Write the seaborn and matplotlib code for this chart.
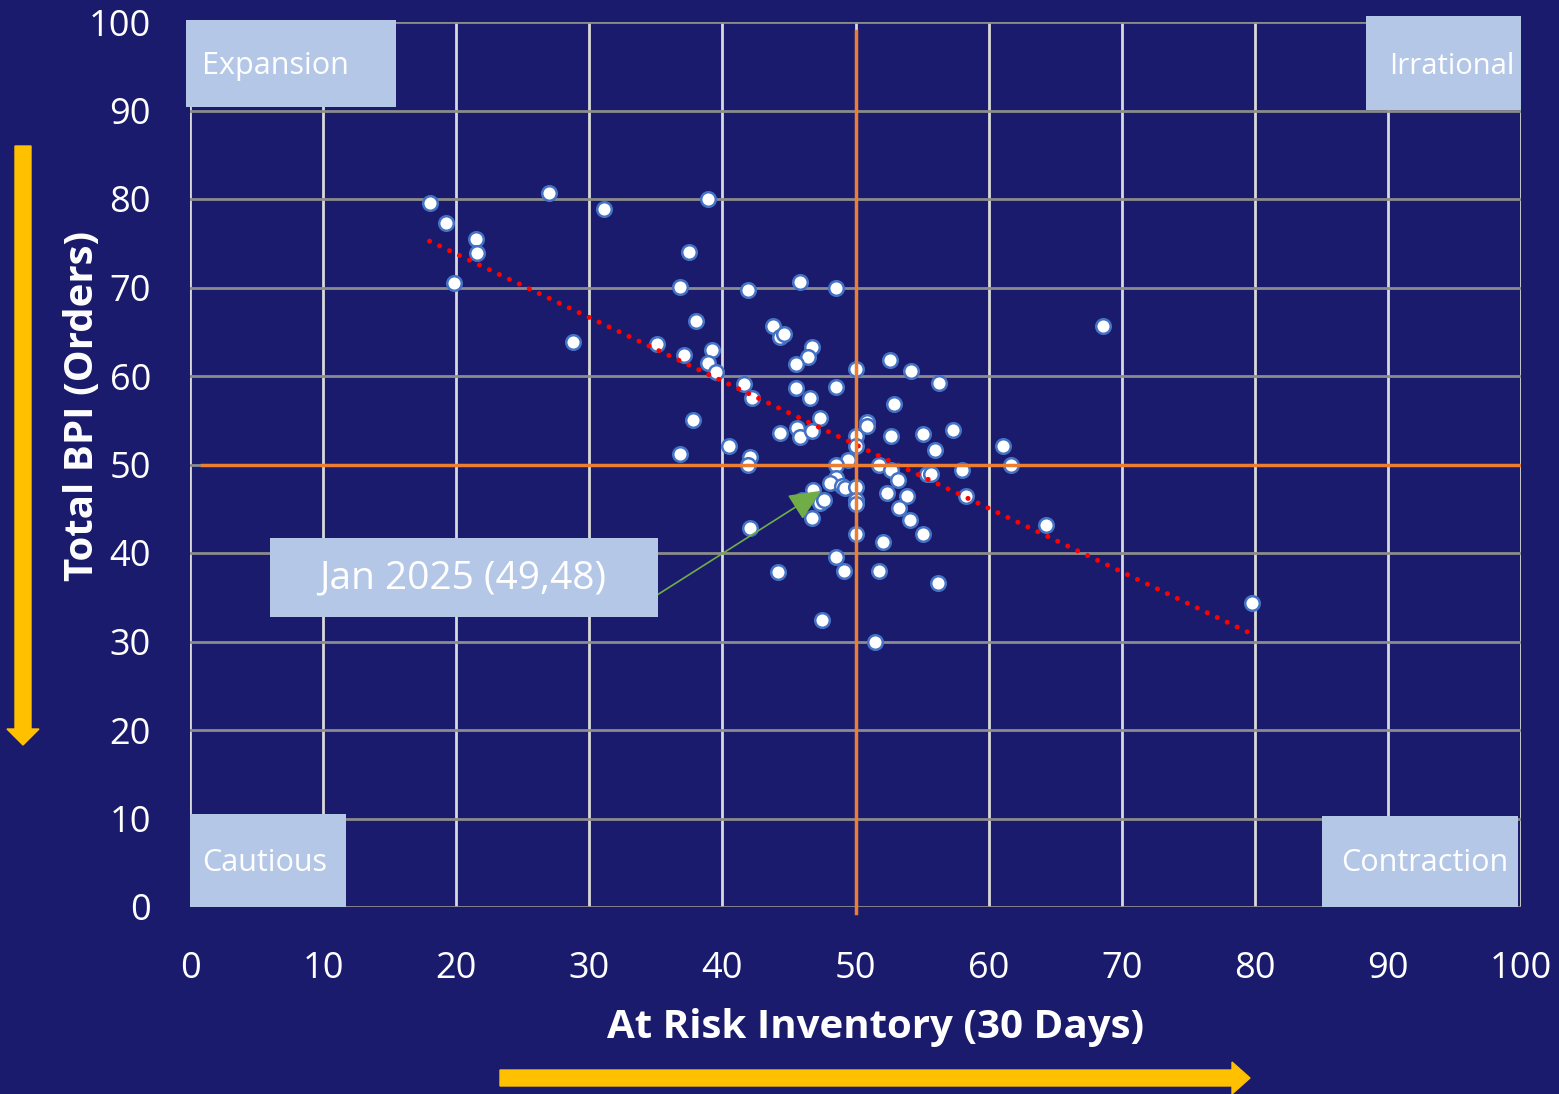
""" BPI vs At Risk Inventory quadrant chart """

import numpy as np
import pandas as pd
import matplotlib
matplotlib.use("Agg")
import matplotlib.pyplot as plt
from matplotlib.patches import Rectangle, FancyArrow
from matplotlib.transforms import IdentityTransform
import seaborn as sns

""" Data read off the chart """

inventory = [18.0, 19.2, 21.5, 21.6, 19.8, 27.0, 31.1, 38.9, 37.5, 36.8,
             38.0, 28.8, 35.1, 37.1, 39.2, 38.9, 39.5, 41.9, 45.8, 48.5,
             43.8, 44.3, 44.6, 46.7, 46.4, 45.5, 41.6, 42.2, 45.5, 46.6,
             48.5, 50.0, 52.6, 54.2, 56.3, 52.9, 37.8, 47.3, 45.6, 44.3,
             45.8, 46.7, 50.0, 50.9, 50.9, 52.7, 55.1, 57.3, 56.0, 36.8,
             40.5, 42.1, 41.9, 50.0, 49.4, 48.5, 51.8, 52.7, 53.2, 52.4,
             53.9, 53.3, 55.4, 55.7, 58.0, 58.3, 48.5, 48.1, 49.0, 49.2,
             50.0, 46.8, 46.0, 47.3, 47.6, 50.0, 50.0, 46.7, 42.1, 50.0,
             52.1, 55.1, 54.1, 48.5, 49.1, 51.8, 56.2, 44.2, 47.5, 51.5,
             61.1, 61.7, 64.3, 68.6, 79.8]

bpi_orders = [79.6, 77.3, 75.5, 73.9, 70.5, 80.7, 78.9, 80.0, 74.0, 70.1,
              66.2, 63.8, 63.6, 62.4, 62.9, 61.5, 60.5, 69.7, 70.6, 69.9,
              65.6, 64.4, 64.7, 63.3, 62.2, 61.3, 59.1, 57.5, 58.6, 57.5,
              58.8, 60.8, 61.8, 60.6, 59.2, 56.8, 55.0, 55.2, 54.1, 53.6,
              53.1, 53.8, 53.2, 54.8, 54.3, 53.2, 53.4, 53.9, 51.6, 51.2,
              52.1, 50.9, 50.0, 52.1, 50.5, 50.0, 50.0, 49.4, 48.2, 46.8,
              46.4, 45.1, 48.9, 48.9, 49.4, 46.4, 48.5, 47.9, 47.6, 47.4,
              47.5, 47.1, 46.0, 45.7, 46.0, 46.0, 45.5, 43.9, 42.8, 42.1,
              41.2, 42.1, 43.7, 39.6, 38.0, 38.0, 36.6, 37.8, 32.4, 29.9,
              52.1, 50.0, 43.2, 65.6, 34.4]

ticks = [0, 10, 20, 30, 40, 50, 60, 70, 80, 90, 100]
midpoint = 50
callout_text = "Jan 2025 (49,48)"
callout_point = (47.6, 47.2)
callout_start = (34.2, 34.4)

df = pd.DataFrame({"Inventory": inventory, "BPI": bpi_orders})

""" Colours and fonts """

navy = "#1b1b6e"
orange = "#ED7D31"
box_blue = "#B4C7E7"
gold = "#FFC000"
plt.rcParams["font.family"] = ["Open Sans", "DejaVu Sans"]

W, H = 1559, 1094
fig = plt.figure(figsize=(W / 100, H / 100), dpi=100, facecolor=navy)
ax = fig.add_axes([190 / W, 1 - 907 / H, (1521 - 190) / W, (907 - 22) / H])
ax.set_facecolor(navy)

ax.set_xlim(0, 100)
ax.set_ylim(0, 100)
ax.set_xticks(ticks)
ax.set_yticks(ticks)
ax.tick_params(length=0, labelsize=26, labelcolor="white")
ax.tick_params(axis="y", pad=28)
ax.tick_params(axis="x", pad=32)
for spine in ax.spines.values():
    spine.set_visible(False)

# gridlines: grey horizontals, lighter verticals
ax.set_axisbelow(True)
ax.yaxis.grid(True, color="#8c8c8c", lw=2)
ax.xaxis.grid(True, color="#d9d9d9", lw=2)

sns.scatterplot(data=df, x="Inventory", y="BPI", ax=ax, s=110,
                color="white", edgecolor="#4472C4", linewidth=1.8, zorder=3)

# linear trendline (Excel style round dots)
sns.regplot(data=df, x="Inventory", y="BPI", ax=ax, scatter=False, ci=None,
            truncate=True,
            line_kws=dict(color="red", lw=3.6, linestyle=(0, (0.01, 2.2)),
                          dash_capstyle="round", zorder=4))

# quadrant dividers
ax.axvline(midpoint, ymin=-0.007, ymax=0.99, color=orange, lw=2.5,
           clip_on=False, zorder=5)
ax.axhline(midpoint, xmin=0.009, xmax=1, color=orange, lw=2.5, zorder=5)

ax.set_xlabel("At Risk Inventory (30 Days)", fontsize=29, fontweight="bold",
              color="white")
ax.set_ylabel("Total BPI (Orders)", fontsize=29, fontweight="bold",
              color="white")
ax.xaxis.set_label_coords((876 - 190) / (1521 - 190), -(1008 - 907) / 885)
ax.yaxis.set_label_coords(-(190 - 102) / (1521 - 190), (907 - 406) / 885)

# callout arrow
ax.annotate("", xy=callout_point, xytext=callout_start,
            arrowprops=dict(arrowstyle="-|>,head_length=1.0,head_width=0.45",
                            color="#70AD47", lw=1.2, mutation_scale=20),
            zorder=6)

""" Label boxes drawn in pixel coordinates """

def box(x0, y0, x1, y1):
    fig.add_artist(Rectangle((x0, H - y1), x1 - x0, y1 - y0,
                             transform=IdentityTransform(),
                             facecolor=box_blue, edgecolor="none", zorder=10))

def label(x, y, text, size, ha="left"):
    fig.text(x / W, 1 - y / H, text, fontsize=size, color="white",
             ha=ha, va="center", zorder=11)

box(186, 20, 396, 107)
label(202, 66, "Expansion", 22)
box(1366, 16, 1521, 110)
label(1514, 66, "Irrational", 21, ha="right")
box(190, 814, 346, 907)
label(202, 863, "Cautious", 22)
box(1322, 816, 1518, 907)
label(1508, 863, "Contraction", 22, ha="right")
box(270, 538, 658, 617)
label(463, 578, callout_text, 28, ha="center")

# yellow direction arrows
fig.add_artist(FancyArrow(23, H - 146, 0, -(745 - 146), width=16,
                          head_width=32, head_length=16,
                          length_includes_head=True, color=gold,
                          transform=IdentityTransform()))
fig.add_artist(FancyArrow(500, H - 1078, 1250 - 500, 0, width=16,
                          head_width=32, head_length=18,
                          length_includes_head=True, color=gold,
                          transform=IdentityTransform()))

plt.savefig("out.png", dpi=100, facecolor=navy)
